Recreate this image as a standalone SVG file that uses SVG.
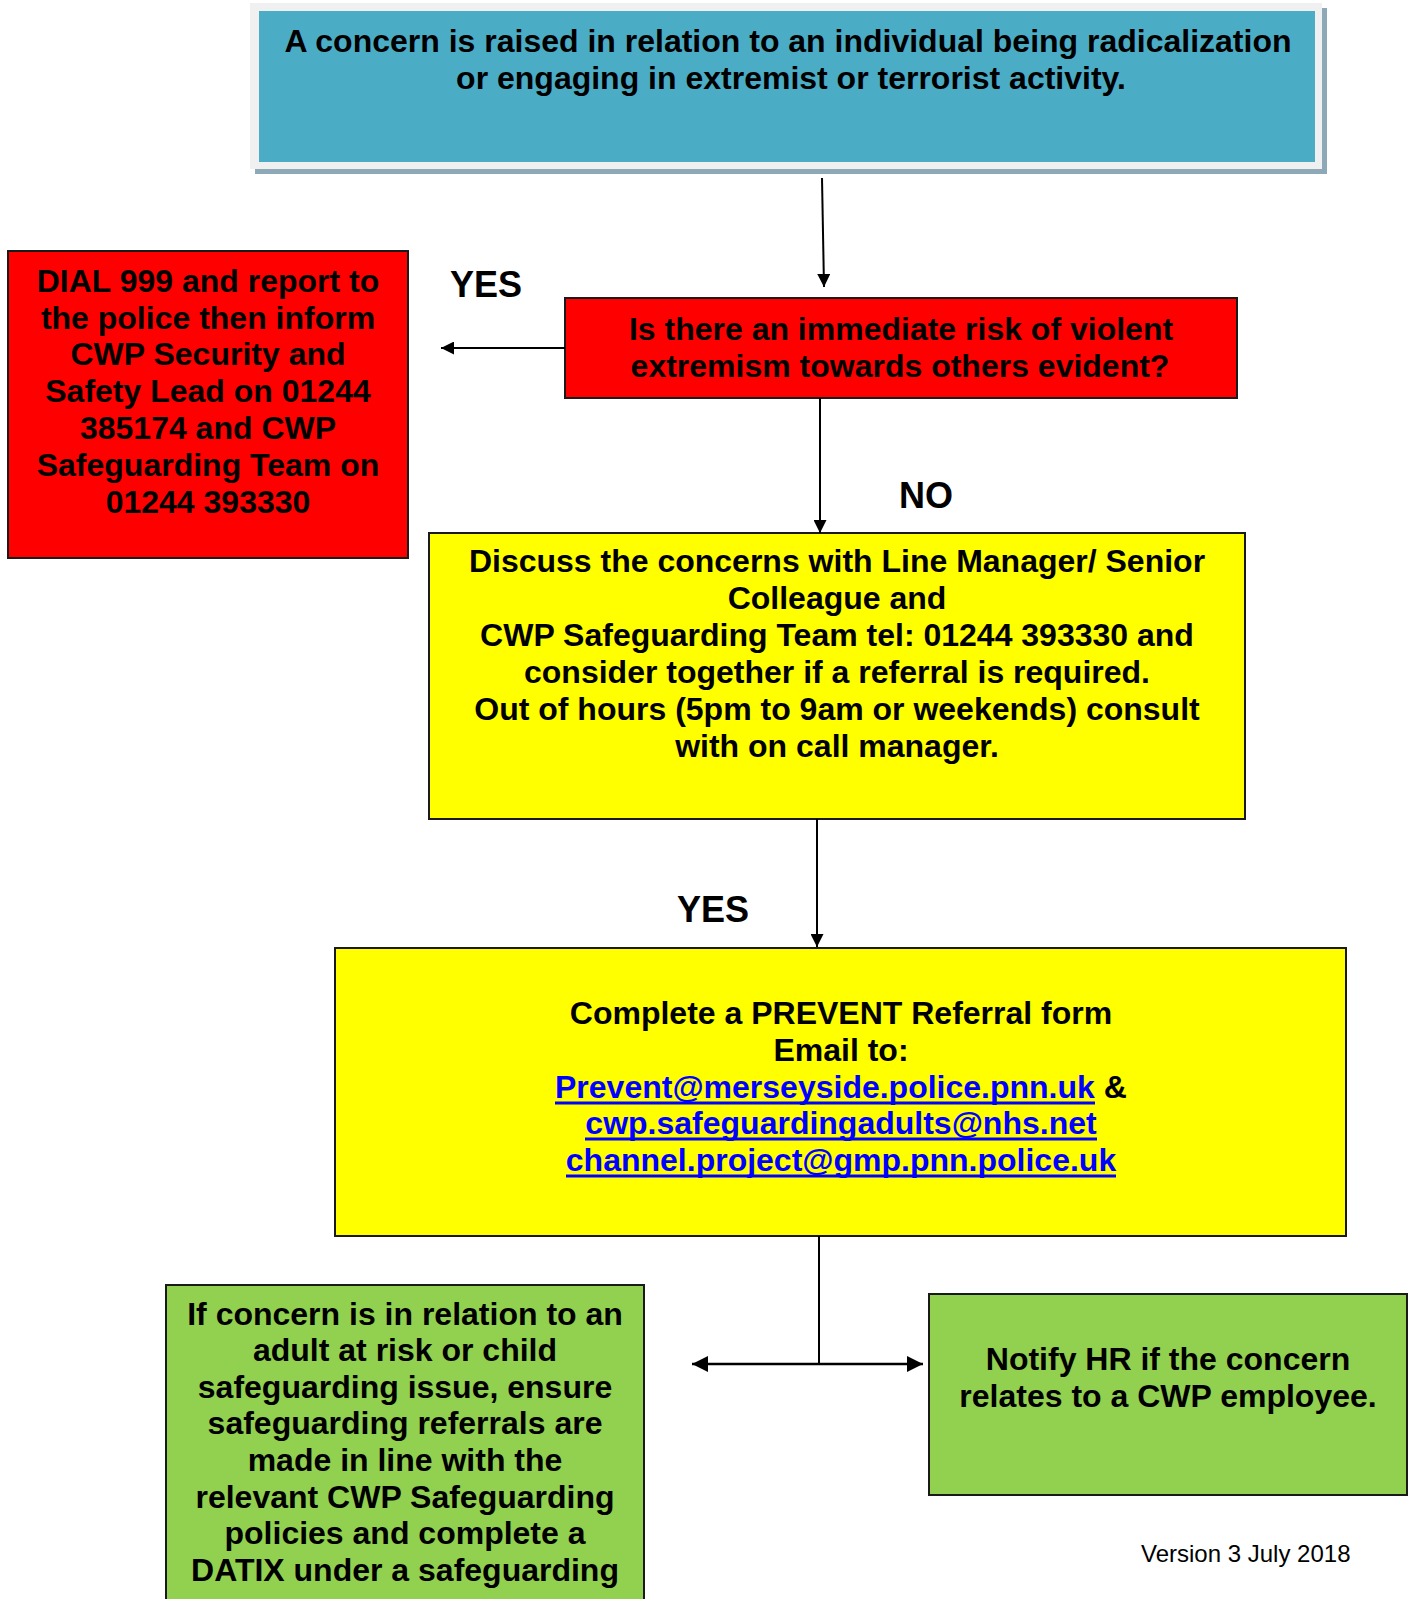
<svg xmlns="http://www.w3.org/2000/svg" width="1413" height="1599" viewBox="0 0 1413 1599">
<style>
.t{font-family:"Liberation Sans",Arial,sans-serif;font-weight:bold;font-size:32px;fill:#000;text-anchor:middle}
.lbl{font-family:"Liberation Sans",Arial,sans-serif;font-weight:bold;font-size:36px;fill:#000}
.lnk{fill:#0000FF}
.ul{stroke:#0000FF;stroke-width:3}
.box{stroke:#1a1a1a;stroke-width:2}
.con{stroke:#000;stroke-width:2;fill:none}
</style>
<defs>
<marker id="ah" viewBox="0 0 10 10" refX="10" refY="5" markerWidth="6.5" markerHeight="6.5" markerUnits="strokeWidth" orient="auto-start-reverse">
<path d="M0,0 L10,5 L0,10 z" fill="#000"/>
</marker>
</defs>
<rect width="1413" height="1599" fill="#fff"/>

<g id="node-concern">
<rect x="255" y="8" width="1072" height="166" fill="#8DA8B6"/>
<rect x="250" y="3" width="1072" height="166" fill="#F0F0F0"/>
<rect x="259" y="11" width="1056" height="151" fill="#4BACC6"/>
<text class="t" x="788" y="52">A concern is raised in relation to an individual being radicalization</text>
<text class="t" x="791" y="89">or engaging in extremist or terrorist activity.</text>
</g>

<g id="node-dial999">
<rect class="box" x="8" y="251" width="400" height="307" fill="#FF0000"/>
<text class="t" x="208" y="292">DIAL 999 and report to</text>
<text class="t" x="208" y="329">the police then inform</text>
<text class="t" x="208" y="365">CWP Security and</text>
<text class="t" x="208" y="402">Safety Lead on 01244</text>
<text class="t" x="208" y="439">385174 and CWP</text>
<text class="t" x="208" y="476">Safeguarding Team on</text>
<text class="t" x="208" y="513">01244 393330</text>
</g>

<g id="node-risk">
<rect class="box" x="565" y="298" width="672" height="100" fill="#FF0000"/>
<text class="t" x="901" y="340">Is there an immediate risk of violent</text>
<text class="t" x="900" y="377">extremism towards others evident?</text>
</g>

<g id="node-discuss">
<rect class="box" x="429" y="533" width="816" height="286" fill="#FFFF00"/>
<text class="t" x="837" y="572">Discuss the concerns with Line Manager/ Senior</text>
<text class="t" x="837" y="609">Colleague and</text>
<text class="t" x="837" y="646">CWP Safeguarding Team tel: 01244 393330 and</text>
<text class="t" x="837" y="683">consider together if a referral is required.</text>
<text class="t" x="837" y="720">Out of hours (5pm to 9am or weekends) consult</text>
<text class="t" x="837" y="757">with on call manager.</text>
</g>

<g id="node-prevent">
<rect class="box" x="335" y="948" width="1011" height="288" fill="#FFFF00"/>
<text class="t" x="841" y="1024">Complete a PREVENT Referral form</text>
<text class="t" x="841" y="1061">Email to:</text>
<text class="t" x="555" y="1098" style="text-anchor:start"><tspan class="lnk">Prevent@merseyside.police.pnn.uk</tspan> &amp;</text>
<text class="t lnk" x="841" y="1134">cwp.safeguardingadults@nhs.net</text>
<text class="t lnk" x="841" y="1171">channel.project@gmp.pnn.police.uk</text>
<line class="ul" x1="555" y1="1103" x2="1095" y2="1103"/>
<line class="ul" x1="585" y1="1139" x2="1097" y2="1139"/>
<line class="ul" x1="566" y1="1176" x2="1116" y2="1176"/>
</g>

<g id="node-safeguarding">
<rect class="box" x="166" y="1285" width="478" height="330" fill="#92D050"/>
<text class="t" x="405" y="1325">If concern is in relation to an</text>
<text class="t" x="405" y="1361">adult at risk or child</text>
<text class="t" x="405" y="1398">safeguarding issue, ensure</text>
<text class="t" x="405" y="1434">safeguarding referrals are</text>
<text class="t" x="405" y="1471">made in line with the</text>
<text class="t" x="405" y="1508">relevant CWP Safeguarding</text>
<text class="t" x="405" y="1544">policies and complete a</text>
<text class="t" x="405" y="1581">DATIX under a safeguarding</text>
</g>

<g id="node-hr">
<rect class="box" x="929" y="1294" width="478" height="201" fill="#92D050"/>
<text class="t" x="1168" y="1370">Notify HR if the concern</text>
<text class="t" x="1168" y="1407">relates to a CWP employee.</text>
</g>

<g id="connectors">
<line class="con" x1="822" y1="178" x2="824" y2="287" marker-end="url(#ah)"/>
<line class="con" x1="565" y1="348" x2="441" y2="348" marker-end="url(#ah)"/>
<line class="con" x1="820" y1="398" x2="820" y2="533" marker-end="url(#ah)"/>
<line class="con" x1="817" y1="819" x2="817" y2="947" marker-end="url(#ah)"/>
<line class="con" x1="819" y1="1236" x2="819" y2="1364"/>
<line class="con" x1="692" y1="1364" x2="923" y2="1364" style="stroke-width:2.5" marker-start="url(#ah)" marker-end="url(#ah)"/>
</g>

<g id="labels">
<text class="lbl" x="450" y="297">YES</text>
<text class="lbl" x="899" y="508">NO</text>
<text class="lbl" x="677" y="922">YES</text>
</g>

<text x="1141" y="1562" style="font-family:'Liberation Sans',Arial,sans-serif;font-size:24px;fill:#000">Version 3 July 2018</text>
</svg>
